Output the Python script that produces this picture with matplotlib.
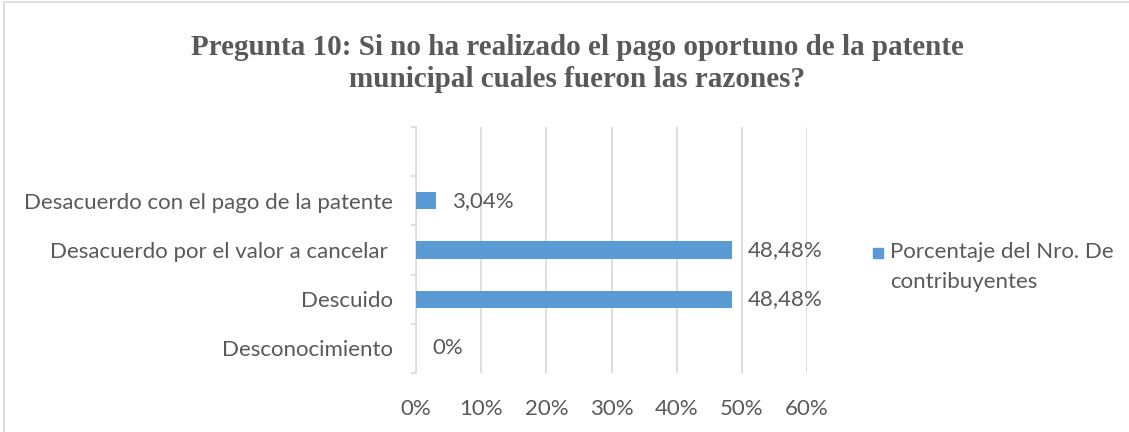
import matplotlib
matplotlib.use("Agg")
import matplotlib.pyplot as plt
from matplotlib.lines import Line2D
import numpy as np

# Categories listed from top to bottom; the top slot is an empty row
categories = ["", "Desacuerdo con el pago de la patente",
              "Desacuerdo por el valor a cancelar ", "Descuido",
              "Desconocimiento"]
values = [np.nan, 3.04, 48.48, 48.48, 0.0]
value_labels = ["", "3,04%", "48,48%", "48,48%", "0%"]
x_ticks = [0, 10, 20, 30, 40, 50, 60]
x_tick_labels = ["0%", "10%", "20%", "30%", "40%", "50%", "60%"]
series_name_lines = ["Porcentaje del Nro. De", "contribuyentes"]
title_lines = ["Pregunta 10: Si no ha realizado el pago oportuno de la patente",
               "municipal cuales fueron las razones?"]

TEXT = "#595959"
GRID = "#d9d9d9"
BAR = "#5b9bd5"
FONT = "Lato"
FS = 16
PX = 72 / 100  # points per pixel at 100 dpi

W, H = 1129, 432
fig = plt.figure(figsize=(W / 100, H / 100), dpi=100)
fig.patch.set_facecolor("white")

# outer chart frame
fig.add_artist(Line2D([4 / W, 4 / W], [0, 1 - 2 / H], color=GRID, lw=1.2,
                      transform=fig.transFigure))
fig.add_artist(Line2D([4 / W, 1], [1 - 2 / H, 1 - 2 / H], color=GRID, lw=1.2,
                      transform=fig.transFigure))

left, right, top, bottom = 416, 807, 127, 373
ax = fig.add_axes([left / W, 1 - bottom / H, (right - left) / W, (bottom - top) / H])

n = len(categories)
pos = np.arange(n)[::-1]  # first category at the top
ax.barh(pos, values, height=0.35, color=BAR, zorder=3)

ax.set_xlim(0, 60)
ax.set_ylim(-0.5, n - 0.5)

ax.set_xticks(x_ticks)
ax.set_xticklabels(x_tick_labels, fontsize=FS, color=TEXT, family=FONT)
ax.tick_params(axis="x", length=0, pad=26 * PX)
ax.grid(axis="x", color=GRID, lw=1.2, zorder=0)

ax.set_yticks(pos)
ax.set_yticklabels(categories, fontsize=FS, color=TEXT, family=FONT)
ax.tick_params(axis="y", which="major", length=0, pad=23 * PX)
ax.set_yticks(np.arange(n + 1) - 0.5, minor=True)
ax.tick_params(axis="y", which="minor", length=5 * PX, color=GRID, width=1.2)

for s in ["top", "right", "bottom"]:
    ax.spines[s].set_visible(False)
ax.spines["left"].set_color(GRID)
ax.spines["left"].set_linewidth(1.2)

for p, v, lab in zip(pos, values, value_labels):
    if np.isnan(v):
        continue
    ax.annotate(lab, (v, p), xytext=(16, 0), textcoords="offset pixels",
                va="center", ha="left", fontsize=FS, color=TEXT, family=FONT)

# two-line title, one text per line
for i, line in enumerate(title_lines):
    fig.text(577 / W, 1 - (55 + 32 * i) / H, line, ha="center", va="baseline",
             fontsize=21, fontweight="bold", color=TEXT,
             family="Liberation Serif")

# legend
fig.patches.append(plt.Rectangle((873 / W, 1 - 258 / H), 10 / W, 10 / H,
                                 color=BAR, transform=fig.transFigure))
for i, line in enumerate(series_name_lines):
    fig.text(890 / W, 1 - (258 + 30 * i) / H, line, ha="left", va="baseline",
             fontsize=FS, color=TEXT, family=FONT)

fig.savefig("out.png", dpi=100, facecolor="white")
